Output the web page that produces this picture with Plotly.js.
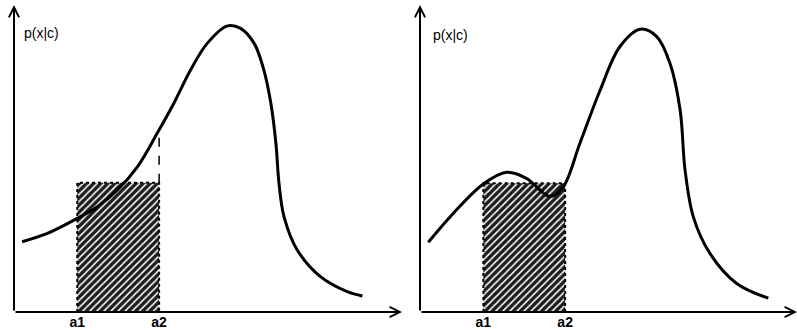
<!DOCTYPE html>
<html>
<head>
<meta charset="utf-8">
<script src="https://cdn.plot.ly/plotly-3.0.1.min.js"></script>
<style>html,body{margin:0;padding:0;background:#fff;}#chart{width:797px;height:330px;}</style>
</head>
<body>
<div id="chart"></div>
<script>
// Left panel: unimodal class-conditional density p(x|c)
const leftX = [0.21, 0.86, 1.63, 2.15, 2.66, 3.18, 3.69, 4.12, 4.55, 4.98, 5.5, 5.84, 6.19, 6.44, 6.62, 6.75, 6.83, 6.96, 7.3, 7.9, 8.59, 8.98];
const leftY = [0.229, 0.256, 0.305, 0.343, 0.397, 0.473, 0.582, 0.68, 0.788, 0.875, 0.932, 0.924, 0.875, 0.788, 0.68, 0.55, 0.419, 0.31, 0.202, 0.115, 0.066, 0.052];
// Right panel: density with a small bump inside [a1, a2]
const rightX = [0.22, 0.88, 1.68, 2.3, 2.83, 3.45, 3.8, 4.24, 4.78, 5.3, 5.84, 6.28, 6.63, 6.9, 7.03, 7.25, 7.69, 8.4, 9.24];
const rightY = [0.227, 0.321, 0.417, 0.455, 0.435, 0.376, 0.408, 0.549, 0.723, 0.864, 0.921, 0.897, 0.81, 0.658, 0.463, 0.31, 0.191, 0.093, 0.045];
// Interval [a1, a2] and rectangle height in each panel
const leftA1 = 1.63, leftA2 = 3.74, leftH = 0.421, leftCurveAtA2 = 0.598;
const rightA1 = 1.68, rightA2 = 3.85, rightH = 0.419;
const tickLabels = ['a1', 'a2'];
const yLabel = 'p(x|c)';
const xLabel = 'x';

function rectTrace(a1, a2, h, xa, ya) {
  return {
    type: 'scatter', mode: 'lines', xaxis: xa, yaxis: ya,
    x: [a1, a1, a2, a2, a1], y: [0, h, h, 0, 0],
    fill: 'toself', fillcolor: 'rgba(0,0,0,0)',
    fillpattern: {shape: '/', bgcolor: '#1e1e1e', fgcolor: '#ffffff', size: 5, solidity: 0.3, fillmode: 'replace'},
    line: {color: '#000', width: 2, dash: 'dot'},
    hoverinfo: 'skip'
  };
}
function curveTrace(x, y, xa, ya) {
  return {type: 'scatter', mode: 'lines', xaxis: xa, yaxis: ya, x: x, y: y,
    line: {color: '#000', width: 3, shape: 'spline', smoothing: 1}, hoverinfo: 'skip'};
}

const data = [
  rectTrace(leftA1, leftA2, leftH, 'x', 'y'),
  {type: 'scatter', mode: 'lines', xaxis: 'x', yaxis: 'y', x: [leftA2, leftA2], y: [leftH, leftCurveAtA2],
   line: {color: '#000', width: 1.5, dash: 'dash'}, hoverinfo: 'skip'},
  curveTrace(leftX, leftY, 'x', 'y'),
  rectTrace(rightA1, rightA2, rightH, 'x2', 'y2'),
  curveTrace(rightX, rightY, 'x2', 'y2')
];

const tickFont = {family: 'Liberation Sans, Arial, sans-serif', size: 14, color: '#000', weight: 'bold'};
function xAxis(dom, a1, a2, anchor) {
  return {domain: dom, range: [0, 10], anchor: anchor, showgrid: false, zeroline: false, showline: false,
    tickmode: 'array', tickvals: [a1, a2], ticktext: tickLabels, ticks: '', tickfont: tickFont, fixedrange: true};
}
function yAxis(dom, anchor) {
  return {domain: dom, range: [0, 1], anchor: anchor, showgrid: false, zeroline: false, showline: false,
    showticklabels: false, ticks: '', fixedrange: true};
}
function axisArrows(xr, yr) {
  const base = {xref: xr, yref: yr, axref: xr, ayref: yr, text: '', showarrow: true,
    arrowhead: 5, arrowsize: 1, arrowwidth: 2, arrowcolor: '#000', ax: 0, ay: 0, standoff: 0};
  return [Object.assign({}, base, {x: 10, y: 0}), Object.assign({}, base, {x: 0, y: 1})];
}
const lblFont = {family: 'Liberation Sans, Arial, sans-serif', size: 14, color: '#000'};
const annotations = [].concat(
  axisArrows('x', 'y'), axisArrows('x2', 'y2'),
  [
    {xref: 'x', yref: 'y', x: 0.2, y: 0.909, text: yLabel, showarrow: false, xanchor: 'left', yanchor: 'middle', font: lblFont},
    {xref: 'x2', yref: 'y2', x: 0.3, y: 0.902, text: yLabel, showarrow: false, xanchor: 'left', yanchor: 'middle', font: lblFont},
    {xref: 'x', yref: 'y', x: 9.59, y: -0.049, text: xLabel, showarrow: false, xanchor: 'center', yanchor: 'middle', font: Object.assign({}, lblFont, {weight: 'bold'})},
    {xref: 'x2', yref: 'y2', x: 9.8, y: -0.049, text: xLabel, showarrow: false, xanchor: 'center', yanchor: 'middle', font: Object.assign({}, lblFont, {weight: 'bold'})}
  ]
);

const layout = {
  width: 797, height: 330,
  margin: {l: 0, r: 0, t: 0, b: 0, pad: 0},
  paper_bgcolor: '#fff', plot_bgcolor: '#fff',
  showlegend: false,
  xaxis: xAxis([14 / 797, 402 / 797], leftA1, leftA2, 'y'),
  yaxis: yAxis([18 / 330, 325 / 330], 'x'),
  xaxis2: xAxis([420 / 797, 1], rightA1, rightA2, 'y2'),
  yaxis2: yAxis([18 / 330, 325 / 330], 'x2'),
  annotations: annotations
};
Plotly.newPlot('chart', data, layout, {displayModeBar: false, staticPlot: true});
</script>
</body>
</html>
